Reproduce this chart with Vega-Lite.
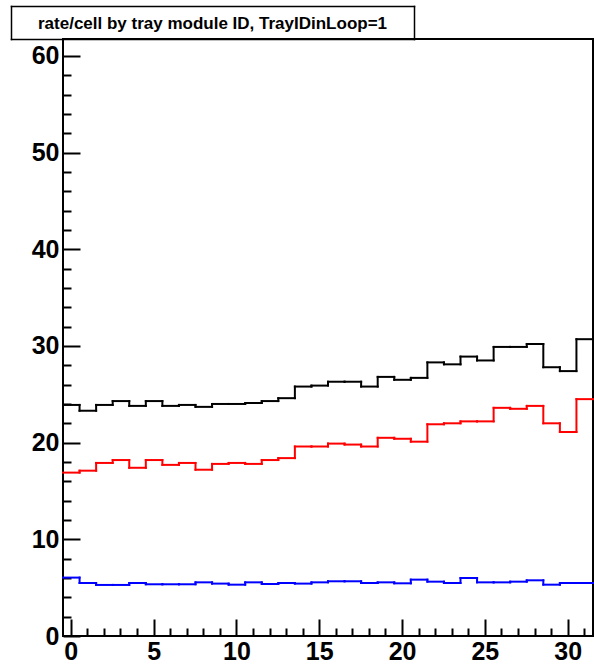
{
  "$schema": "https://vega.github.io/schema/vega-lite/v6.json",
  "background": "white",
  "padding": {"left": 11, "top": 6, "right": 0, "bottom": 0},
  "spacing": -2,
  "config": {"view": {"stroke": null}, "font": "Liberation Sans"},
  "datasets": {
    "hist": [
      {"module": 0, "series": "h1", "rate": 23.9}, {"module": 1, "series": "h1", "rate": 23.3}, {"module": 2, "series": "h1", "rate": 23.9}, {"module": 3, "series": "h1", "rate": 24.3},
      {"module": 4, "series": "h1", "rate": 23.8}, {"module": 5, "series": "h1", "rate": 24.3}, {"module": 6, "series": "h1", "rate": 23.8}, {"module": 7, "series": "h1", "rate": 23.9},
      {"module": 8, "series": "h1", "rate": 23.7}, {"module": 9, "series": "h1", "rate": 24.0}, {"module": 10, "series": "h1", "rate": 24.0}, {"module": 11, "series": "h1", "rate": 24.1},
      {"module": 12, "series": "h1", "rate": 24.3}, {"module": 13, "series": "h1", "rate": 24.6}, {"module": 14, "series": "h1", "rate": 25.8}, {"module": 15, "series": "h1", "rate": 25.9},
      {"module": 16, "series": "h1", "rate": 26.3}, {"module": 17, "series": "h1", "rate": 26.3}, {"module": 18, "series": "h1", "rate": 25.8}, {"module": 19, "series": "h1", "rate": 26.8},
      {"module": 20, "series": "h1", "rate": 26.5}, {"module": 21, "series": "h1", "rate": 26.7}, {"module": 22, "series": "h1", "rate": 28.3}, {"module": 23, "series": "h1", "rate": 28.1},
      {"module": 24, "series": "h1", "rate": 28.9}, {"module": 25, "series": "h1", "rate": 28.5}, {"module": 26, "series": "h1", "rate": 29.9}, {"module": 27, "series": "h1", "rate": 29.9},
      {"module": 28, "series": "h1", "rate": 30.2}, {"module": 29, "series": "h1", "rate": 27.8}, {"module": 30, "series": "h1", "rate": 27.4}, {"module": 31, "series": "h1", "rate": 30.7},
      {"module": 0, "series": "h2", "rate": 16.9}, {"module": 1, "series": "h2", "rate": 17.1}, {"module": 2, "series": "h2", "rate": 17.9}, {"module": 3, "series": "h2", "rate": 18.2},
      {"module": 4, "series": "h2", "rate": 17.4}, {"module": 5, "series": "h2", "rate": 18.2}, {"module": 6, "series": "h2", "rate": 17.7}, {"module": 7, "series": "h2", "rate": 17.9},
      {"module": 8, "series": "h2", "rate": 17.2}, {"module": 9, "series": "h2", "rate": 17.8}, {"module": 10, "series": "h2", "rate": 17.9}, {"module": 11, "series": "h2", "rate": 17.8},
      {"module": 12, "series": "h2", "rate": 18.2}, {"module": 13, "series": "h2", "rate": 18.4}, {"module": 14, "series": "h2", "rate": 19.6}, {"module": 15, "series": "h2", "rate": 19.6},
      {"module": 16, "series": "h2", "rate": 19.9}, {"module": 17, "series": "h2", "rate": 19.8}, {"module": 18, "series": "h2", "rate": 19.6}, {"module": 19, "series": "h2", "rate": 20.5},
      {"module": 20, "series": "h2", "rate": 20.4}, {"module": 21, "series": "h2", "rate": 20.1}, {"module": 22, "series": "h2", "rate": 21.9}, {"module": 23, "series": "h2", "rate": 22.0},
      {"module": 24, "series": "h2", "rate": 22.2}, {"module": 25, "series": "h2", "rate": 22.2}, {"module": 26, "series": "h2", "rate": 23.6}, {"module": 27, "series": "h2", "rate": 23.5},
      {"module": 28, "series": "h2", "rate": 23.8}, {"module": 29, "series": "h2", "rate": 22.0}, {"module": 30, "series": "h2", "rate": 21.1}, {"module": 31, "series": "h2", "rate": 24.5},
      {"module": 0, "series": "h3", "rate": 6.04}, {"module": 1, "series": "h3", "rate": 5.48}, {"module": 2, "series": "h3", "rate": 5.28}, {"module": 3, "series": "h3", "rate": 5.28},
      {"module": 4, "series": "h3", "rate": 5.48}, {"module": 5, "series": "h3", "rate": 5.35}, {"module": 6, "series": "h3", "rate": 5.35}, {"module": 7, "series": "h3", "rate": 5.35},
      {"module": 8, "series": "h3", "rate": 5.55}, {"module": 9, "series": "h3", "rate": 5.42}, {"module": 10, "series": "h3", "rate": 5.31}, {"module": 11, "series": "h3", "rate": 5.55},
      {"module": 12, "series": "h3", "rate": 5.38}, {"module": 13, "series": "h3", "rate": 5.48}, {"module": 14, "series": "h3", "rate": 5.42}, {"module": 15, "series": "h3", "rate": 5.55},
      {"module": 16, "series": "h3", "rate": 5.66}, {"module": 17, "series": "h3", "rate": 5.66}, {"module": 18, "series": "h3", "rate": 5.48}, {"module": 19, "series": "h3", "rate": 5.55},
      {"module": 20, "series": "h3", "rate": 5.45}, {"module": 21, "series": "h3", "rate": 5.83}, {"module": 22, "series": "h3", "rate": 5.62}, {"module": 23, "series": "h3", "rate": 5.48},
      {"module": 24, "series": "h3", "rate": 6.0}, {"module": 25, "series": "h3", "rate": 5.55}, {"module": 26, "series": "h3", "rate": 5.55}, {"module": 27, "series": "h3", "rate": 5.62},
      {"module": 28, "series": "h3", "rate": 5.76}, {"module": 29, "series": "h3", "rate": 5.31}, {"module": 30, "series": "h3", "rate": 5.48}, {"module": 31, "series": "h3", "rate": 5.48}
    ]
  },
  "vconcat": [
    {
      "data": {"values": [{"label": "rate/cell by tray module ID, TrayIDinLoop=1"}]},
      "width": 351,
      "height": 33,
      "resolve": {"axis": {"x": "independent", "y": "independent"}},
      "layer": [
        {
          "mark": {"type": "text", "font": "Liberation Sans", "fontWeight": "bold", "fontSize": 17, "baseline": "middle", "align": "center", "color": "black"},
          "encoding": {
            "text": {"field": "label", "type": "nominal"},
            "x": {"field": "label", "type": "nominal", "scale": {"type": "point", "range": [-52, 351], "padding": 0.5},
                  "axis": {"orient": "top", "domain": true, "domainColor": "black", "domainWidth": 1.5, "domainCap": "square", "ticks": false, "labels": false, "grid": false, "title": null}},
            "y": {"field": "label", "type": "nominal", "scale": {"type": "point", "padding": 0.5, "align": 0.56},
                  "axis": {"orient": "left", "offset": 52, "domain": true, "domainColor": "black", "domainWidth": 1.5, "domainCap": "square", "ticks": false, "labels": false, "grid": false, "title": null}}
          }
        },
        {
          "mark": {"type": "text", "opacity": 0, "fontSize": 17},
          "encoding": {
            "text": {"field": "label", "type": "nominal"},
            "x": {"field": "label", "type": "nominal",
                  "axis": {"orient": "bottom", "domain": true, "domainColor": "black", "domainWidth": 1.5, "domainCap": "square", "ticks": false, "labels": false, "grid": false, "title": null}},
            "y": {"field": "label", "type": "nominal",
                  "axis": {"orient": "right", "offset": 0, "domain": true, "domainColor": "black", "domainWidth": 1.5, "domainCap": "square", "ticks": false, "labels": false, "grid": false, "title": null}}
          }
        }
      ]
    },
    {
      "data": {"name": "hist"},
      "width": 530,
      "height": 597,
      "view": {"stroke": "black", "strokeWidth": 2},
      "transform": [
        {"window": [{"op": "lag", "field": "rate", "as": "prev"}], "groupby": ["series"], "sort": [{"field": "module", "order": "ascending"}]}
      ],
      "layer": [
        {
          "mark": {"type": "rule", "strokeWidth": 2, "strokeCap": "square"},
          "encoding": {
            "x": {
              "field": "module", "type": "ordinal", "bandPosition": 0, "title": null,
              "scale": {"type": "band", "paddingInner": 0, "paddingOuter": 0},
              "axis": {
                "orient": "bottom", "bandPosition": 0.5, "domain": false, "grid": false,
                "tickColor": "black", "tickWidth": 2,
                "tickSize": {"condition": {"test": "datum.value % 5 === 0", "value": -17}, "value": -8},
                "labelExpr": "datum.value % 5 === 0 ? datum.label : ''",
                "labelFont": "Liberation Sans", "labelFontWeight": "bold", "labelFontSize": 25, "labelColor": "black",
                "labelAngle": 0, "labelPadding": 20, "labelOverlap": false, "labelFlush": false, "title": null
              }
            },
            "x2": {"field": "module", "bandPosition": 1},
            "y": {
              "field": "rate", "type": "quantitative", "title": null,
              "scale": {"domain": [0, 61.75], "nice": false, "zero": true},
              "axis": {
                "orient": "left", "values": [0, 2, 4, 6, 8, 10, 12, 14, 16, 18, 20, 22, 24, 26, 28, 30, 32, 34, 36, 38, 40, 42, 44, 46, 48, 50, 52, 54, 56, 58, 60],
                "domain": false, "grid": false, "tickColor": "black", "tickWidth": 2,
                "tickSize": {"condition": {"test": "datum.value % 10 === 0", "value": -17}, "value": -8},
                "labelExpr": "datum.value % 10 === 0 ? datum.label : ''",
                "labelFont": "Liberation Sans", "labelFontWeight": "bold", "labelFontSize": 25, "labelColor": "black",
                "labelPadding": 21, "labelOverlap": false, "labelFlush": false, "title": null
              }
            },
            "color": {"field": "series", "type": "nominal", "scale": {"domain": ["h1", "h2", "h3"], "range": ["#000000", "#ff0000", "#0000ff"]}, "legend": null}
          }
        },
        {
          "transform": [{"filter": "datum.prev != null"}],
          "mark": {"type": "rule", "strokeWidth": 2, "strokeCap": "square"},
          "encoding": {
            "x": {
              "field": "module", "type": "ordinal", "bandPosition": 0, "title": null,
              "axis": {
                "orient": "bottom", "bandPosition": 0.5, "domain": false, "grid": false,
                "tickColor": "black", "tickWidth": 2,
                "tickSize": {"condition": {"test": "datum.value % 5 === 0", "value": -17}, "value": -8},
                "labelExpr": "datum.value % 5 === 0 ? datum.label : ''",
                "labelFont": "Liberation Sans", "labelFontWeight": "bold", "labelFontSize": 25, "labelColor": "black",
                "labelAngle": 0, "labelPadding": 20, "labelOverlap": false, "labelFlush": false, "title": null
              }
            },
            "y": {
              "field": "prev", "type": "quantitative", "title": null,
              "axis": {
                "orient": "left", "values": [0, 2, 4, 6, 8, 10, 12, 14, 16, 18, 20, 22, 24, 26, 28, 30, 32, 34, 36, 38, 40, 42, 44, 46, 48, 50, 52, 54, 56, 58, 60],
                "domain": false, "grid": false, "tickColor": "black", "tickWidth": 2,
                "tickSize": {"condition": {"test": "datum.value % 10 === 0", "value": -17}, "value": -8},
                "labelExpr": "datum.value % 10 === 0 ? datum.label : ''",
                "labelFont": "Liberation Sans", "labelFontWeight": "bold", "labelFontSize": 25, "labelColor": "black",
                "labelPadding": 21, "labelOverlap": false, "labelFlush": false, "title": null
              }
            },
            "y2": {"field": "rate"},
            "color": {"field": "series", "type": "nominal", "legend": null}
          }
        }
      ]
    }
  ]
}
